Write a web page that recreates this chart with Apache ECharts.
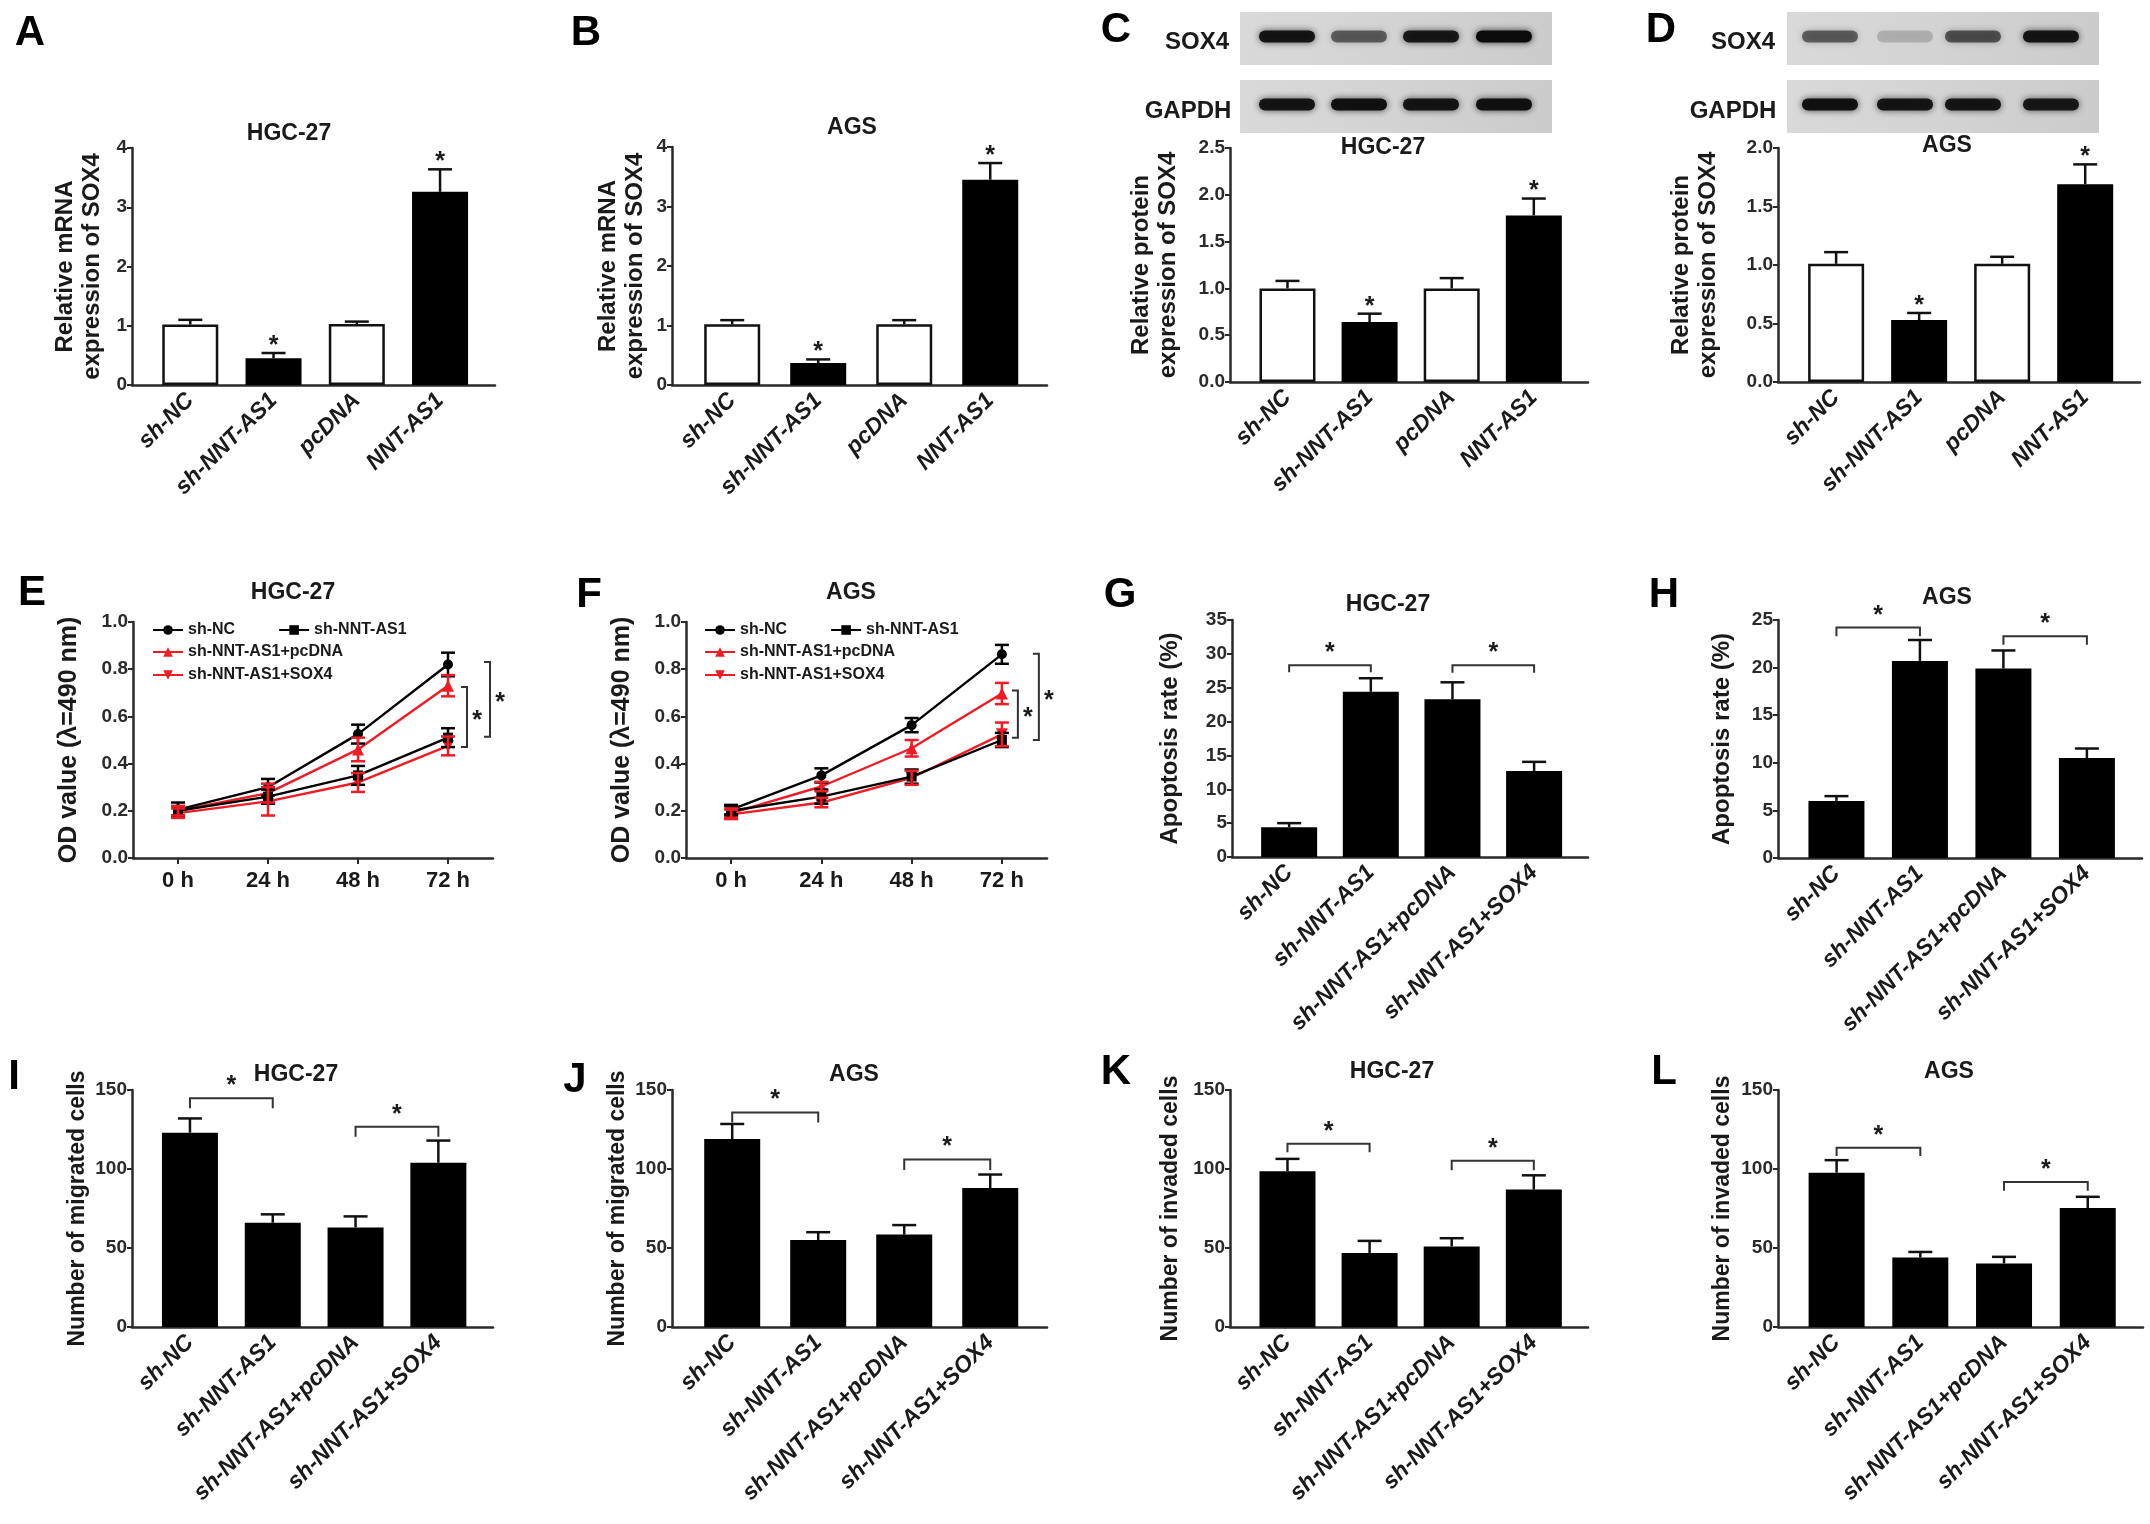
<!DOCTYPE html>
<html>
<head>
<meta charset="utf-8">
<script src="https://cdn.jsdelivr.net/npm/echarts@6/dist/echarts.min.js"></script>
<style>
  html, body { margin: 0; background: #fff; }
  #chart-panel { width: 2150px; height: 1524px; }
</style>
</head>
<body>
<div id="chart-panel"></div>
<script>
// ---- data ----
var catsShort = ['sh-NC', 'sh-NNT-AS1', 'pcDNA', 'NNT-AS1'];
var catsRescue = ['sh-NC', 'sh-NNT-AS1', 'sh-NNT-AS1+pcDNA', 'sh-NNT-AS1+SOX4'];
var timePoints = ['0 h', '24 h', '48 h', '72 h'];
var lineNames = ['sh-NC', 'sh-NNT-AS1', 'sh-NNT-AS1+pcDNA', 'sh-NNT-AS1+SOX4'];

// A, B: mRNA
var mrnaHGC = [1.02, 0.45, 1.03, 3.26];
var mrnaHGCErr = [0.08, 0.09, 0.04, 0.38];
var mrnaAGS = [1.02, 0.37, 1.02, 3.45];
var mrnaAGSErr = [0.07, 0.06, 0.07, 0.28];
// C, D: protein
var protHGC = [1.0, 0.64, 1.0, 1.78];
var protHGCErr = [0.08, 0.09, 0.11, 0.18];
var protAGS = [1.01, 0.53, 1.01, 1.69];
var protAGSErr = [0.1, 0.06, 0.06, 0.17];
var starOnBar = [0, 1, 0, 1];
var whiteBar = [1, 0, 1, 0];

// western blot band intensity (0..1)
var blotSoxHGC = [0.92, 0.55, 0.9, 1.0];
var blotGapdhHGC = [0.92, 0.95, 0.92, 0.95];
var blotSoxAGS = [0.55, 0.18, 0.6, 0.92];
var blotGapdhAGS = [0.95, 0.92, 0.92, 0.9];

// E, F: OD value
var odHGC = [
  [0.205, 0.30, 0.525, 0.82],
  [0.20, 0.26, 0.35, 0.51],
  [0.20, 0.275, 0.46, 0.73],
  [0.19, 0.24, 0.32, 0.475]
];
var odHGCErr = [
  [0.03, 0.035, 0.04, 0.05],
  [0.02, 0.03, 0.04, 0.04],
  [0.02, 0.04, 0.05, 0.045],
  [0.02, 0.06, 0.04, 0.04]
];
var odAGS = [
  [0.205, 0.35, 0.563, 0.863],
  [0.20, 0.26, 0.345, 0.50],
  [0.19, 0.303, 0.465, 0.697],
  [0.185, 0.235, 0.34, 0.524]
];
var odAGSErr = [
  [0.02, 0.03, 0.03, 0.04],
  [0.02, 0.03, 0.03, 0.03],
  [0.02, 0.02, 0.035, 0.045],
  [0.02, 0.02, 0.03, 0.05]
];
var odHGCSig = [[0.725, 0.47], [0.83, 0.514]];
var odAGSSig = [[0.71, 0.51], [0.865, 0.50]];

// G, H: apoptosis
var apoHGC = [4.4, 24.4, 23.3, 12.7];
var apoHGCErr = [0.6, 2.0, 2.5, 1.35];
var apoAGS = [6.0, 20.7, 19.9, 10.5];
var apoAGSErr = [0.5, 2.2, 1.9, 1.0];
var apoHGCSig = [[0, 1, 28.3, 27.3], [2, 3, 28.3, 27.2]];
var apoAGSSig = [[0, 1, 24.2, 23.3], [2, 3, 23.3, 22.4]];

// I, J: migration
var migHGC = [123, 66, 63, 104];
var migHGCErr = [9, 5.3, 7, 14];
var migAGS = [119, 55, 58.5, 88];
var migAGSErr = [9.5, 5, 6, 8.5];
var migHGCSig = [[0, 1, 144.7, 138.4], [2, 3, 126.8, 120.4]];
var migAGSSig = [[0, 1, 135.8, 129.5], [2, 3, 106, 99.3]];

// K, L: invasion
var invHGC = [98.6, 46.8, 51, 87];
var invHGCErr = [7.8, 7.7, 5.2, 9];
var invAGS = [97.7, 44, 40.2, 75.3];
var invAGSErr = [7.9, 3.5, 4.2, 7.1];
var invHGCSig = [[0, 1, 116, 110.6], [2, 3, 105.3, 99.2]];
var invAGSSig = [[0, 1, 113.4, 108.2], [2, 3, 91.8, 86.2]];

// ---- styling ----
var FN = "'Liberation Sans',Arial,sans-serif";
var FB = "'Liberation Sans',Arial,sans-serif";
var INK = '#1a1a1a';
var RED = '#ee1c25';

var grids = [], xAxes = [], yAxes = [], series = [], graphics = [], legends = [];

function txt(x, y, text, font, extra) {
  var st = { text: text, font: font, fill: INK, align: 'center', textAlign: 'center', verticalAlign: 'middle', textVerticalAlign: 'middle' };
  if (extra) for (var k in extra) st[k] = extra[k];
  graphics.push({ type: 'text', x: x, y: y, style: st, silent: true });
}

function addGrid(box) {
  grids.push({ left: box[0], top: box[1], width: box[2] - box[0], height: box[3] - box[1] });
  return grids.length - 1;
}

function yAxisCfg(gi, max, step, dec, name, gap, nameSize) {
  return {
    type: 'value', gridIndex: gi, min: 0, max: max, interval: step,
    name: name, nameLocation: 'middle', nameGap: gap, nameRotate: 90,
    nameTextStyle: { fontFamily: FB, fontWeight: 'bold', fontSize: nameSize || 24, lineHeight: 27, color: INK },
    axisLine: { show: true, onZero: false, lineStyle: { color: '#2a2a2a', width: 2.5 } },
    axisTick: { show: true, length: 5, lineStyle: { color: '#2a2a2a', width: 2 } },
    axisLabel: {
      fontFamily: FN, fontWeight: 'bold', fontSize: 19, color: '#2a2a2a', margin: 5,
      formatter: function (v) { return v.toFixed(dec); }
    },
    splitLine: { show: false }
  };
}

function errorSeries(gi, vals, errs, stars, both, color, capHalf) {
  return {
    type: 'custom', xAxisIndex: gi, yAxisIndex: gi, z: 5, clip: false, silent: true,
    renderItem: function (params, api) {
      var x = api.value(0), m = api.value(1), e = api.value(2), s = api.value(3);
      var top = api.coord([x, m + e]);
      var bot = api.coord([x, both ? m - e : m]);
      var ls = { stroke: color, lineWidth: 2.5 };
      var kids = [
        { type: 'line', shape: { x1: top[0], y1: top[1], x2: bot[0], y2: bot[1] }, style: ls },
        { type: 'line', shape: { x1: top[0] - capHalf, y1: top[1], x2: top[0] + capHalf, y2: top[1] }, style: ls }
      ];
      if (both) kids.push({ type: 'line', shape: { x1: bot[0] - capHalf, y1: bot[1], x2: bot[0] + capHalf, y2: bot[1] }, style: ls });
      if (s) kids.push({ type: 'text', x: top[0], y: top[1] - 7, style: { text: '*', font: 'bold 25px ' + FB, fill: INK, align: 'center', verticalAlign: 'middle' } });
      return { type: 'group', children: kids };
    },
    data: vals.map(function (v, i) { return [i, v, errs[i], stars ? stars[i] : 0]; })
  };
}

function bracketSeries(gi, sig) {
  return {
    type: 'custom', xAxisIndex: gi, yAxisIndex: gi, z: 6, clip: false, silent: true,
    renderItem: function (params, api) {
      var a = api.coord([api.value(0), api.value(2)]);
      var b = api.coord([api.value(1), api.value(2)]);
      var leg = api.coord([api.value(0), api.value(3)])[1];
      return {
        type: 'group', children: [
          { type: 'polyline', shape: { points: [[a[0], leg], [a[0], a[1]], [b[0], b[1]], [b[0], leg]] }, style: { stroke: '#333', lineWidth: 2, fill: null } },
          { type: 'text', x: (a[0] + b[0]) / 2, y: a[1] - 12, style: { text: '*', font: 'bold 25px ' + FB, fill: INK, align: 'center', verticalAlign: 'middle' } }
        ]
      };
    },
    data: sig
  };
}

function barPanel(box, cats, vals, errs, opt) {
  var gi = addGrid(box);
  xAxes.push({
    type: 'value', gridIndex: gi, min: -0.7, max: 3.66, minInterval: 1, maxInterval: 1,
    axisLine: { show: true, onZero: false, lineStyle: { color: '#2a2a2a', width: 2.5 } },
    axisTick: { show: false }, splitLine: { show: false },
    axisLabel: {
      rotate: 45, margin: 12, fontFamily: FB, fontStyle: 'italic', fontWeight: 'bold', fontSize: 23, color: INK,
      showMinLabel: true, showMaxLabel: true,
      formatter: function (v) {
        var k = Math.round(v);
        return (Math.abs(v - k) < 1e-6 && cats[k] !== undefined) ? cats[k] : '';
      }
    }
  });
  yAxes.push(yAxisCfg(gi, opt.max, opt.step, opt.dec, opt.name, opt.gap, opt.nameSize));
  series.push({
    type: 'bar', xAxisIndex: gi, yAxisIndex: gi, barWidth: 56, silent: true,
    data: vals.map(function (v, i) {
      var white = opt.white && opt.white[i];
      return {
        value: [i, v],
        itemStyle: white ? { color: '#fff', borderColor: '#111', borderWidth: 2.5 } : { color: '#000' }
      };
    })
  });
  series.push(errorSeries(gi, vals, errs, opt.stars, false, '#111', 12));
  if (opt.sig) series.push(bracketSeries(gi, opt.sig));
}

var lineStyles = [
  { color: '#000', symbol: 'circle', size: 10, rot: 0 },
  { color: '#000', symbol: 'rect', size: 10, rot: 0 },
  { color: RED, symbol: 'triangle', size: 12, rot: 0 },
  { color: RED, symbol: 'triangle', size: 12, rot: 180 }
];

function linePanel(box, sets, errSets, sig, legendLeft, offsets) {
  var gi = addGrid(box);
  xAxes.push({
    type: 'category', gridIndex: gi, data: timePoints, boundaryGap: true,
    axisLine: { show: true, onZero: false, lineStyle: { color: '#2a2a2a', width: 2.5 } },
    axisTick: { show: true, alignWithLabel: true, length: 6, lineStyle: { color: '#2a2a2a', width: 2 } },
    axisLabel: { fontFamily: FN, fontWeight: 'bold', fontSize: 22, color: INK, margin: 12 },
    splitLine: { show: false }
  });
  yAxes.push(yAxisCfg(gi, 1.0, 0.2, 1, 'OD value (\u03bb=490 nm)', 50, 25));
  sets.forEach(function (vals, s) {
    var st = lineStyles[s];
    series.push({
      type: 'line', name: lineNames[s], xAxisIndex: gi, yAxisIndex: gi, data: vals,
      symbol: st.symbol, symbolSize: st.size, symbolRotate: st.rot,
      lineStyle: { color: st.color, width: 2.4 }, itemStyle: { color: st.color }, z: 3 + (s < 2 ? 1 : 0)
    });
    series.push(errorSeries(gi, vals, errSets[s], null, true, st.color, 7));
  });
  // vertical significance brackets right of 72 h
  series.push({
    type: 'custom', xAxisIndex: gi, yAxisIndex: gi, z: 6, clip: false, silent: true,
    renderItem: function (params, api) {
      var off = offsets[params.dataIndex];
      var t = api.coord([3, api.value(0)]);
      var b = api.coord([3, api.value(1)]);
      var x = t[0] + off;
      return {
        type: 'group', children: [
          { type: 'polyline', shape: { points: [[x - 6, t[1]], [x, t[1]], [x, b[1]], [x - 6, b[1]]] }, style: { stroke: '#333', lineWidth: 2, fill: null } },
          { type: 'text', x: x + 10, y: (t[1] + b[1]) / 2 + 4, style: { text: '*', font: 'bold 25px ' + FB, fill: INK, align: 'center', verticalAlign: 'middle' } }
        ]
      };
    },
    data: sig
  });
  var legText = { fontFamily: FB, fontWeight: 'bold', fontSize: 16, color: INK };
  legends.push({
    data: lineNames.slice(0, 2), orient: 'horizontal', left: legendLeft, top: box[1] + 0, padding: 0,
    itemWidth: 30, itemHeight: 12, itemGap: 43, textStyle: legText, selectedMode: false
  });
  legends.push({
    data: lineNames.slice(2), orient: 'vertical', left: legendLeft, top: box[1] + 22, padding: 0,
    itemWidth: 30, itemHeight: 12, itemGap: 7, textStyle: legText, selectedMode: false
  });
}

function blot(x0, lanes, sox, gapdh) {
  var boxes = [[12, 65, sox], [80, 133, gapdh]];
  boxes.forEach(function (b) {
    graphics.push({
      type: 'rect', shape: { x: x0, y: b[0], width: 312, height: b[1] - b[0] }, silent: true,
      style: { fill: new echarts.graphic.LinearGradient(0, 0, 1, 1, [{ offset: 0, color: '#d9d9d9' }, { offset: 0.5, color: '#d3d3d3' }, { offset: 1, color: '#cbcbcb' }]) }
    });
    lanes.forEach(function (lx, i) {
      var a = b[2][i];
      var cy = (b[0] + b[1]) / 2 - 2;
      graphics.push({
        type: 'rect', shape: { x: x0 + lx - 28, y: cy - 6, width: 56, height: 12, r: 6 }, silent: true,
        style: { fill: 'rgba(12,12,12,' + a + ')', shadowBlur: 7, shadowColor: 'rgba(20,20,20,' + (a * 0.85) + ')' }
      });
    });
  });
}

// ---- panels ----
barPanel([132, 148, 495, 385], catsShort, mrnaHGC, mrnaHGCErr,
  { max: 4, step: 1, dec: 0, name: 'Relative mRNA\nexpression of SOX4', gap: 26, white: whiteBar, stars: starOnBar });
barPanel([672, 147, 1047, 385], catsShort, mrnaAGS, mrnaAGSErr,
  { max: 4, step: 1, dec: 0, name: 'Relative mRNA\nexpression of SOX4', gap: 23, white: whiteBar, stars: starOnBar });
barPanel([1230, 148, 1588, 382], catsShort, protHGC, protHGCErr,
  { max: 2.5, step: 0.5, dec: 1, name: 'Relative protein\nexpression of SOX4', gap: 48, white: whiteBar, stars: starOnBar });
barPanel([1778, 148, 2140, 382], catsShort, protAGS, protAGSErr,
  { max: 2.0, step: 0.5, dec: 1, name: 'Relative protein\nexpression of SOX4', gap: 56, white: whiteBar, stars: starOnBar });

linePanel([133, 622, 493, 858], odHGC, odHGCErr, odHGCSig, 152, [19, 42]);
linePanel([686, 622, 1047, 858], odAGS, odAGSErr, odAGSSig, 704, [16, 37]);

barPanel([1232, 620, 1588, 857], catsRescue, apoHGC, apoHGCErr,
  { max: 35, step: 5, dec: 0, name: 'Apoptosis rate (%)', gap: 48, sig: apoHGCSig });
barPanel([1778, 620, 2142, 858], catsRescue, apoAGS, apoAGSErr,
  { max: 25, step: 5, dec: 0, name: 'Apoptosis rate (%)', gap: 42, sig: apoAGSSig });

barPanel([132, 1090, 493, 1327], catsRescue, migHGC, migHGCErr,
  { max: 150, step: 50, dec: 0, name: 'Number of migrated cells', gap: 40, nameSize: 23, sig: migHGCSig });
barPanel([672, 1090, 1047, 1327], catsRescue, migAGS, migAGSErr,
  { max: 150, step: 50, dec: 0, name: 'Number of migrated cells', gap: 30, nameSize: 23, sig: migAGSSig });
barPanel([1230, 1090, 1588, 1327], catsRescue, invHGC, invHGCErr,
  { max: 150, step: 50, dec: 0, name: 'Number of invaded cells', gap: 46, nameSize: 23, sig: invHGCSig });
barPanel([1778, 1090, 2143, 1327], catsRescue, invAGS, invAGSErr,
  { max: 150, step: 50, dec: 0, name: 'Number of invaded cells', gap: 42, nameSize: 23, sig: invAGSSig });

// blots
blot(1240, [47, 119, 191, 264], blotSoxHGC, blotGapdhHGC);
blot(1787, [43, 118, 186, 264], blotSoxAGS, blotGapdhAGS);
txt(1197, 42, 'SOX4', 'bold 24px ' + FN);
txt(1188, 111, 'GAPDH', 'bold 24px ' + FN);
txt(1743, 42, 'SOX4', 'bold 24px ' + FN);
txt(1733, 111, 'GAPDH', 'bold 24px ' + FN);

// titles
var TF = 'bold 23px ' + FN;
[[289, 134, 'HGC-27'], [852, 128, 'AGS'], [1383, 148, 'HGC-27'], [1947, 146, 'AGS'],
 [293, 593, 'HGC-27'], [851, 593, 'AGS'], [1388, 605, 'HGC-27'], [1947, 598, 'AGS'],
 [296, 1075, 'HGC-27'], [854, 1075, 'AGS'], [1392, 1072, 'HGC-27'], [1949, 1072, 'AGS']
].forEach(function (t) { txt(t[0], t[1], t[2], TF); });

// panel letters
var LF = 'bold 42px ' + FB;
[[30, 33, 'A'], [586, 33, 'B'], [1116, 30, 'C'], [1661, 30, 'D'],
 [32, 593, 'E'], [589, 595, 'F'], [1120, 595, 'G'], [1664, 595, 'H'],
 [14, 1077, 'I'], [575, 1080, 'J'], [1116, 1072, 'K'], [1664, 1072, 'L']
].forEach(function (t) { txt(t[0], t[1], t[2], LF, { fill: '#000' }); });

var chart = echarts.init(document.getElementById('chart-panel'));
chart.setOption({
  animation: false,
  backgroundColor: '#fff',
  grid: grids,
  xAxis: xAxes,
  yAxis: yAxes,
  legend: legends,
  series: series,
  graphic: graphics
});
</script>
</body>
</html>
